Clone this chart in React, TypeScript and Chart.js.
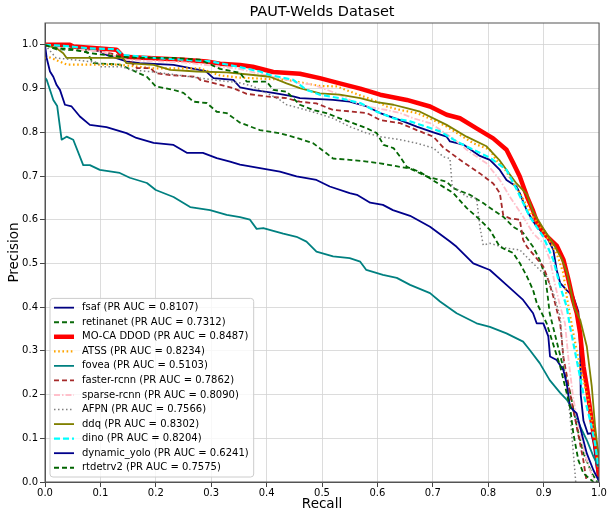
import { useEffect, useRef } from 'react';
import { Chart, registerables } from 'chart.js';

Chart.register(...registerables);

// ---------- data ----------
const modelNames = [
  'fsaf', 'retinanet', 'MO-CA DDOD', 'ATSS', 'fovea', 'faster-rcnn',
  'sparse-rcnn', 'AFPN', 'ddq', 'dino', 'dynamic_yolo', 'rtdetrv2',
];
const aucValues = [0.8107, 0.7312, 0.8487, 0.8234, 0.5103, 0.7862, 0.809, 0.7566, 0.8302, 0.8204, 0.6241, 0.7575];

const xTicks = [0, 0.1, 0.2, 0.3, 0.4, 0.5, 0.6, 0.7, 0.8, 0.9, 1.0];

const fsafRecall = [0, 0.03, 0.06, 0.1, 0.111, 0.147, 0.171, 0.232, 0.29, 0.304, 0.34, 0.352, 0.375, 0.412, 0.448, 0.46, 0.496, 0.52, 0.55, 0.581, 0.605, 0.641, 0.671, 0.701, 0.725, 0.731, 0.755, 0.785, 0.803, 0.821, 0.833, 0.851, 0.857, 0.87, 0.8875, 0.9055, 0.9176, 0.9236, 0.93, 0.9416, 0.9537, 0.9627, 0.966, 0.967, 0.972, 0.98, 0.986, 0.99, 0.996, 1.0];
const fsafPrecision = [1.0, 0.998, 0.996, 0.985, 0.977, 0.962, 0.958, 0.954, 0.94, 0.924, 0.92, 0.903, 0.897, 0.89, 0.882, 0.878, 0.876, 0.874, 0.87, 0.859, 0.844, 0.828, 0.813, 0.8, 0.79, 0.779, 0.772, 0.746, 0.737, 0.714, 0.691, 0.676, 0.661, 0.62, 0.584, 0.561, 0.531, 0.485, 0.455, 0.439, 0.424, 0.39, 0.3, 0.2, 0.14, 0.11, 0.112, 0.09, 0.03, 0.0];

const retinanetRecall = [0, 0.02, 0.05, 0.075, 0.087, 0.135, 0.17, 0.184, 0.2, 0.232, 0.25, 0.268, 0.292, 0.31, 0.328, 0.352, 0.388, 0.424, 0.46, 0.484, 0.508, 0.52, 0.55, 0.581, 0.605, 0.623, 0.659, 0.689, 0.725, 0.737, 0.767, 0.791, 0.809, 0.827, 0.845, 0.863, 0.881, 0.893, 0.903, 0.907, 0.911, 0.92, 0.935, 0.948, 0.96, 0.972, 0.987, 0.997];
const retinanetPrecision = [1.0, 0.99, 0.988, 0.985, 0.958, 0.955, 0.935, 0.927, 0.905, 0.897, 0.89, 0.87, 0.867, 0.847, 0.844, 0.822, 0.805, 0.798, 0.785, 0.775, 0.752, 0.74, 0.737, 0.733, 0.729, 0.725, 0.717, 0.699, 0.687, 0.672, 0.657, 0.638, 0.622, 0.607, 0.584, 0.57, 0.538, 0.508, 0.47, 0.43, 0.386, 0.34, 0.264, 0.204, 0.127, 0.066, 0.02, 0.0];

const mocaRecall = [0, 0.04, 0.045, 0.051, 0.129, 0.141, 0.25, 0.292, 0.316, 0.352, 0.375, 0.412, 0.46, 0.496, 0.532, 0.569, 0.605, 0.653, 0.695, 0.725, 0.749, 0.779, 0.809, 0.833, 0.845, 0.857, 0.87, 0.881, 0.888, 0.905, 0.924, 0.936, 0.945, 0.953, 0.96, 0.966, 0.972, 0.978, 0.984, 0.99, 0.996, 1.0];
const mocaPrecision = [1.0, 1.0, 1.0, 0.996, 0.989, 0.973, 0.966, 0.962, 0.957, 0.954, 0.95, 0.938, 0.934, 0.924, 0.912, 0.9, 0.886, 0.874, 0.859, 0.84, 0.832, 0.809, 0.786, 0.76, 0.73, 0.699, 0.653, 0.62, 0.595, 0.563, 0.54, 0.508, 0.462, 0.4165, 0.386, 0.34, 0.264, 0.218, 0.165, 0.111, 0.066, 0.012];

const atssRecall = [0, 0.009, 0.039, 0.13, 0.2, 0.28, 0.316, 0.352, 0.436, 0.496, 0.526, 0.568, 0.592, 0.617, 0.641, 0.671, 0.701, 0.725, 0.773, 0.803, 0.815, 0.827, 0.845, 0.857, 0.881, 0.9055, 0.9236, 0.9356, 0.9416, 0.9537, 0.9657, 0.9808, 0.9928, 0.9988];
const atssPrecision = [0.97, 0.971, 0.955, 0.955, 0.946, 0.946, 0.93, 0.925, 0.92, 0.906, 0.905, 0.885, 0.874, 0.859, 0.851, 0.844, 0.828, 0.813, 0.775, 0.76, 0.735, 0.722, 0.684, 0.661, 0.607, 0.561, 0.523, 0.478, 0.425, 0.34, 0.264, 0.188, 0.096, 0.028];

const foveaRecall = [0, 0.003, 0.015, 0.022, 0.03, 0.039, 0.051, 0.069, 0.081, 0.099, 0.135, 0.153, 0.184, 0.2, 0.232, 0.262, 0.298, 0.328, 0.352, 0.37, 0.382, 0.394, 0.43, 0.454, 0.472, 0.49, 0.52, 0.55, 0.569, 0.58, 0.61, 0.635, 0.659, 0.695, 0.713, 0.743, 0.779, 0.803, 0.833, 0.863, 0.875, 0.893, 0.911, 0.93, 0.942, 0.953, 0.966, 0.978, 0.99, 0.999];
const foveaPrecision = [0.925, 0.92, 0.874, 0.86, 0.783, 0.79, 0.783, 0.725, 0.725, 0.714, 0.707, 0.696, 0.684, 0.668, 0.652, 0.629, 0.622, 0.611, 0.606, 0.6, 0.579, 0.581, 0.568, 0.561, 0.55, 0.527, 0.516, 0.512, 0.504, 0.485, 0.474, 0.467, 0.451, 0.432, 0.413, 0.386, 0.363, 0.355, 0.34, 0.321, 0.302, 0.272, 0.233, 0.204, 0.188, 0.165, 0.127, 0.096, 0.058, 0.035];

const fasterRecall = [0, 0.027, 0.05, 0.12, 0.147, 0.166, 0.19, 0.2, 0.226, 0.274, 0.28, 0.328, 0.34, 0.364, 0.4, 0.436, 0.46, 0.49, 0.52, 0.55, 0.581, 0.605, 0.641, 0.671, 0.701, 0.719, 0.749, 0.785, 0.809, 0.821, 0.827, 0.839, 0.857, 0.863, 0.87, 0.8845, 0.8995, 0.9085, 0.9176, 0.93, 0.9356, 0.9477, 0.9597, 0.9717, 0.9778];
const fasterPrecision = [1.0, 1.0, 0.995, 0.98, 0.97, 0.947, 0.947, 0.935, 0.931, 0.927, 0.92, 0.905, 0.901, 0.888, 0.882, 0.878, 0.87, 0.866, 0.851, 0.848, 0.844, 0.828, 0.821, 0.805, 0.79, 0.765, 0.737, 0.706, 0.683, 0.661, 0.611, 0.603, 0.6, 0.554, 0.538, 0.516, 0.493, 0.462, 0.424, 0.363, 0.287, 0.203, 0.127, 0.05, 0.0];

const sparseRecall = [0, 0.027, 0.1, 0.15, 0.25, 0.35, 0.4, 0.436, 0.46, 0.484, 0.526, 0.556, 0.581, 0.617, 0.641, 0.665, 0.695, 0.737, 0.761, 0.797, 0.821, 0.839, 0.863, 0.881, 0.8995, 0.9116, 0.92, 0.93, 0.9386, 0.945, 0.9537, 0.9657, 0.9778, 0.99];
const sparsePrecision = [1.0, 0.992, 0.985, 0.965, 0.96, 0.945, 0.93, 0.92, 0.912, 0.909, 0.889, 0.87, 0.859, 0.851, 0.844, 0.832, 0.821, 0.786, 0.76, 0.729, 0.691, 0.653, 0.607, 0.569, 0.546, 0.508, 0.455, 0.401, 0.363, 0.28, 0.19, 0.111, 0.05, 0.005];

const afpnRecall = [0, 0.02, 0.05, 0.094, 0.1, 0.14, 0.153, 0.196, 0.304, 0.352, 0.376, 0.4, 0.424, 0.436, 0.46, 0.49, 0.52, 0.55, 0.581, 0.605, 0.641, 0.671, 0.701, 0.719, 0.731, 0.735, 0.761, 0.779, 0.785, 0.791, 0.803, 0.833, 0.857, 0.881, 0.9055, 0.9176, 0.93, 0.9356, 0.9446, 0.9507, 0.9567, 0.958];
const afpnPrecision = [1.0, 0.97, 0.966, 0.96, 0.95, 0.95, 0.943, 0.938, 0.92, 0.913, 0.905, 0.89, 0.874, 0.863, 0.855, 0.844, 0.832, 0.813, 0.798, 0.79, 0.783, 0.775, 0.764, 0.744, 0.74, 0.676, 0.653, 0.649, 0.584, 0.542, 0.546, 0.535, 0.531, 0.5, 0.47, 0.432, 0.378, 0.28, 0.19, 0.111, 0.02, 0.0];

const ddqRecall = [0, 0.021, 0.033, 0.039, 0.141, 0.147, 0.196, 0.226, 0.274, 0.328, 0.376, 0.406, 0.436, 0.46, 0.496, 0.532, 0.569, 0.593, 0.629, 0.653, 0.677, 0.725, 0.761, 0.797, 0.821, 0.851, 0.87, 0.881, 0.8995, 0.9176, 0.932, 0.942, 0.948, 0.955, 0.966, 0.978, 0.987, 0.993, 1.0];
const ddqPrecision = [1.0, 0.992, 0.981, 0.97, 0.97, 0.958, 0.954, 0.943, 0.939, 0.937, 0.931, 0.927, 0.912, 0.901, 0.889, 0.886, 0.878, 0.87, 0.863, 0.855, 0.847, 0.817, 0.79, 0.768, 0.735, 0.683, 0.658, 0.618, 0.58, 0.545, 0.512, 0.48, 0.445, 0.4, 0.371, 0.31, 0.218, 0.127, 0.05];

const dinoRecall = [0, 0.03, 0.081, 0.129, 0.14, 0.2, 0.3, 0.352, 0.388, 0.406, 0.448, 0.472, 0.496, 0.532, 0.569, 0.599, 0.629, 0.659, 0.683, 0.713, 0.743, 0.773, 0.803, 0.833, 0.851, 0.875, 0.8995, 0.9176, 0.93, 0.9416, 0.9477, 0.9597, 0.9717, 0.9838, 0.9928, 0.9988];
const dinoPrecision = [1.0, 0.998, 0.992, 0.99, 0.977, 0.97, 0.962, 0.949, 0.939, 0.931, 0.92, 0.897, 0.886, 0.878, 0.867, 0.847, 0.832, 0.825, 0.815, 0.802, 0.779, 0.76, 0.742, 0.714, 0.67, 0.607, 0.561, 0.508, 0.447, 0.401, 0.3555, 0.279, 0.203, 0.142, 0.0885, 0.035];

const dynYoloRecall = [0, 0.003, 0.009, 0.015, 0.021, 0.027, 0.036, 0.048, 0.063, 0.081, 0.111, 0.129, 0.147, 0.165, 0.196, 0.232, 0.256, 0.285, 0.31, 0.334, 0.352, 0.388, 0.424, 0.454, 0.49, 0.514, 0.55, 0.563, 0.587, 0.61, 0.628, 0.659, 0.695, 0.731, 0.743, 0.773, 0.803, 0.833, 0.863, 0.881, 0.8875, 0.8995, 0.9085, 0.9116, 0.9236, 0.9356, 0.9416, 0.9477, 0.9597, 0.9657, 0.9717, 0.9778, 0.9898, 0.9988];
const dynYoloPrecision = [1.0, 0.97, 0.939, 0.927, 0.908, 0.897, 0.863, 0.859, 0.836, 0.817, 0.812, 0.805, 0.798, 0.787, 0.776, 0.771, 0.753, 0.753, 0.741, 0.733, 0.726, 0.718, 0.71, 0.699, 0.691, 0.676, 0.661, 0.657, 0.639, 0.634, 0.622, 0.609, 0.584, 0.55, 0.538, 0.5, 0.485, 0.451, 0.4165, 0.386, 0.363, 0.363, 0.333, 0.287, 0.279, 0.256, 0.226, 0.172, 0.157, 0.127, 0.096, 0.066, 0.0275, 0.005];

const rtdetrRecall = [0, 0.015, 0.05, 0.081, 0.135, 0.171, 0.232, 0.28, 0.316, 0.352, 0.364, 0.4, 0.412, 0.436, 0.46, 0.484, 0.508, 0.532, 0.556, 0.581, 0.599, 0.611, 0.629, 0.641, 0.653, 0.677, 0.713, 0.737, 0.761, 0.785, 0.803, 0.821, 0.845, 0.857, 0.87, 0.881, 0.8875, 0.9055, 0.93, 0.9477, 0.9537, 0.9627, 0.9717, 0.99];
const rtdetrPrecision = [1.0, 0.993, 0.99, 0.981, 0.973, 0.97, 0.97, 0.966, 0.945, 0.936, 0.916, 0.916, 0.897, 0.893, 0.863, 0.851, 0.844, 0.832, 0.821, 0.809, 0.798, 0.771, 0.764, 0.744, 0.721, 0.709, 0.68, 0.661, 0.627, 0.6, 0.577, 0.538, 0.524, 0.501, 0.47, 0.439, 0.41, 0.363, 0.264, 0.172, 0.111, 0.05, 0.02, 0.0];

const recallSeries = [fsafRecall, retinanetRecall, mocaRecall, atssRecall, foveaRecall, fasterRecall, sparseRecall, afpnRecall, ddqRecall, dinoRecall, dynYoloRecall, rtdetrRecall];
const precisionSeries = [fsafPrecision, retinanetPrecision, mocaPrecision, atssPrecision, foveaPrecision, fasterPrecision, sparsePrecision, afpnPrecision, ddqPrecision, dinoPrecision, dynYoloPrecision, rtdetrPrecision];

// ---------- styles ----------
const lineColors = ['#000080', '#0a6a0a', '#ff0000', '#ffa500', '#008080', '#a52a2a', '#ffc0cb', '#808080', '#808000', '#00ffff', '#00008b', '#006400'];
const lineDashes: number[][] = [[], [5, 3], [], [1.6, 2.6], [], [5, 3], [6, 2, 1.5, 2], [1.5, 2.5], [], [6, 3], [], [5, 3]];
const lineWidths = [1.8, 1.8, 4.5, 2.2, 1.8, 1.8, 1.8, 1.5, 1.8, 2.2, 1.8, 1.8];

const FONT = '"DejaVu Sans", "Liberation Sans", sans-serif';

const framePlugin = {
  id: 'axesFrame',
  afterDatasetsDraw(chart: any) {
    const { ctx, chartArea: a } = chart;
    ctx.save();
    ctx.strokeStyle = '#555555';
    ctx.lineWidth = 1;
    ctx.setLineDash([]);
    ctx.strokeRect(a.left, a.top, a.right - a.left, a.bottom - a.top);
    ctx.restore();
  },
};

const legendPlugin = {
  id: 'insideLegend',
  afterDraw(chart: any) {
    const { ctx, chartArea: a } = chart;
    const datasets = chart.data.datasets;
    const fs = 10;
    const rowH = 14.55;
    const pad = 2;
    ctx.save();
    ctx.font = `${fs}px ${FONT}`;
    const maxW = Math.max(...datasets.map((d: any) => ctx.measureText(d.label).width));
    const boxW = 4 + 20 + 8 + maxW + 5;
    const boxH = pad * 2 + rowH * datasets.length;
    const x0 = a.left + 5;
    const y1 = a.bottom - 5;
    const y0 = y1 - boxH;
    const r = 3;
    ctx.beginPath();
    ctx.moveTo(x0 + r, y0);
    ctx.lineTo(x0 + boxW - r, y0);
    ctx.quadraticCurveTo(x0 + boxW, y0, x0 + boxW, y0 + r);
    ctx.lineTo(x0 + boxW, y1 - r);
    ctx.quadraticCurveTo(x0 + boxW, y1, x0 + boxW - r, y1);
    ctx.lineTo(x0 + r, y1);
    ctx.quadraticCurveTo(x0, y1, x0, y1 - r);
    ctx.lineTo(x0, y0 + r);
    ctx.quadraticCurveTo(x0, y0, x0 + r, y0);
    ctx.closePath();
    ctx.fillStyle = 'rgba(255,255,255,0.8)';
    ctx.fill();
    ctx.strokeStyle = '#cccccc';
    ctx.lineWidth = 1;
    ctx.stroke();
    datasets.forEach((d: any, i: number) => {
      const cy = y0 + pad + rowH * (i + 0.5);
      ctx.beginPath();
      ctx.setLineDash(d.borderDash || []);
      ctx.lineWidth = d.borderWidth;
      ctx.strokeStyle = d.borderColor;
      ctx.moveTo(x0 + 4, cy);
      ctx.lineTo(x0 + 24, cy);
      ctx.stroke();
      ctx.setLineDash([]);
      ctx.fillStyle = '#000000';
      ctx.textBaseline = 'middle';
      ctx.textAlign = 'left';
      ctx.fillText(d.label, x0 + 32, cy);
    });
    ctx.restore();
  },
};

export default function App() {
  const canvasRef = useRef<HTMLCanvasElement | null>(null);

  useEffect(() => {
    if (!canvasRef.current) return;
    const n = modelNames.length;
    const datasets = modelNames.map((name, i) => {
      const rec = recallSeries[i];
      const prec = precisionSeries[i];
      const len = Math.min(rec.length, prec.length);
      const pts = [];
      for (let k = 0; k < len; k++) pts.push({ x: rec[k], y: prec[k] });
      return {
        label: `${name} (PR AUC = ${aucValues[i].toFixed(4)})`,
        data: pts,
        borderColor: lineColors[i],
        backgroundColor: lineColors[i],
        borderDash: lineDashes[i],
        borderWidth: lineWidths[i],
        pointRadius: 0,
        tension: 0,
        fill: false,
        order: n - 1 - i,
        borderJoinStyle: 'round' as const,
      };
    });

    const chart = new Chart(canvasRef.current, {
      type: 'line',
      data: { datasets },
      options: {
        animation: false,
        responsive: false,
        devicePixelRatio: 1,
        layout: { padding: { left: 0, right: 15, top: 0, bottom: 0 } },
        plugins: {
          legend: { display: false },
          tooltip: { enabled: false },
          title: {
            display: true,
            text: 'PAUT-Welds Dataset',
            fullSize: false,
            color: '#000000',
            font: { family: FONT, size: 14.5, weight: 'normal' },
            padding: { top: 4, bottom: 1.6 },
          },
        },
        scales: {
          x: {
            type: 'linear',
            min: 0,
            max: 1,
            afterFit: (scale: any) => { scale.height = 38; },
            ticks: {
              stepSize: 0.1,
              autoSkip: false,
              maxRotation: 0,
              padding: 0,
              color: '#000000',
              font: { family: FONT, size: 10 },
              callback: (v: any) => xTicks.includes(Math.round(Number(v) * 10) / 10) ? Number(v).toFixed(1) : '',
            },
            grid: {
              color: '#d3d3d3',
              borderDash: [3, 2],
              lineWidth: 0.8,
              tickLength: 5,
              tickColor: '#444444',
              tickWidth: 1,
            } as any,
            border: { display: true, color: '#555555', width: 1 },
            title: {
              display: true,
              text: 'Recall',
              color: '#000000',
              font: { family: FONT, size: 13.5 },
              padding: { top: 0, bottom: 7 },
            },
          },
          y: {
            type: 'linear',
            min: 0,
            max: 1.05,
            afterFit: (scale: any) => { scale.width = 45; },
            ticks: {
              stepSize: 0.1,
              includeBounds: false,
              autoSkip: false,
              padding: 2,
              color: '#000000',
              font: { family: FONT, size: 10 },
              callback: (v: any) => Number(v).toFixed(1),
            },
            grid: {
              color: '#d3d3d3',
              borderDash: [3, 2],
              lineWidth: 0.8,
              tickLength: 5,
              tickColor: '#444444',
              tickWidth: 1,
            } as any,
            border: { display: true, color: '#555555', width: 1 },
            title: {
              display: true,
              text: 'Precision',
              color: '#000000',
              font: { family: FONT, size: 13.5 },
              padding: { top: 6, bottom: 0 },
            },
          },
        },
      } as any,
      plugins: [framePlugin, legendPlugin],
    });
    return () => chart.destroy();
  }, []);

  return (
    <div style={{ position: 'fixed', left: 0, top: 0, width: 614, height: 520, background: '#ffffff' }}>
      <canvas ref={canvasRef} width={614} height={520} style={{ display: 'block', width: 614, height: 520 }} />
    </div>
  );
}
